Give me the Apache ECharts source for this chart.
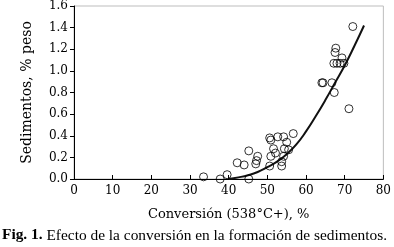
<!DOCTYPE html>
<html>
<head>
<meta charset="utf-8">
<script src="https://cdn.jsdelivr.net/npm/echarts@6/dist/echarts.min.js"></script>
<style>html,body{margin:0;padding:0;background:#fff}#c{width:394px;height:247px}</style>
</head>
<body>
<div id="c"></div>
<script>
// Scatter data: conversion (%) and sediments (% peso)
var conversion = [33.5,37.8,39.6,45.2,42.2,44.0,45.2,47.5,47.2,47.0,50.6,50.9,52.7,54.2,56.7,55.0,51.6,54.4,55.5,52.1,50.9,54.2,50.6,53.7,53.7,72.1,67.7,67.5,69.3,67.2,68.0,68.8,69.8,64.4,64.1,66.7,67.3,71.1];
var sediments  = [0.02,0.00,0.04,0.00,0.15,0.13,0.26,0.21,0.17,0.14,0.38,0.36,0.39,0.39,0.42,0.34,0.28,0.28,0.27,0.24,0.21,0.21,0.12,0.16,0.12,1.41,1.21,1.17,1.12,1.07,1.07,1.07,1.07,0.89,0.89,0.89,0.80,0.65];
// Trend curve
var curveX = [40,42.5,45,47.5,50,52.5,55,57.5,60,62.5,65,67.5,70,72.5,75];
var curveY = [0.00,0.015,0.035,0.065,0.11,0.16,0.23,0.32,0.44,0.58,0.73,0.89,1.05,1.23,1.42];
var xTicks = [0,10,20,30,40,50,60,70,80];
var yTicks = [0.0,0.2,0.4,0.6,0.8,1.0,1.2,1.4,1.6];

var points = conversion.map(function(x,i){return [x, sediments[i]];});
var curve = curveX.map(function(x,i){return [x, curveY[i]];});

var chart = echarts.init(document.getElementById('c'), null, {renderer:'canvas'});
var serif = 'DejaVu Serif';
chart.setOption({
  animation:false,
  backgroundColor:'#fff',
  title:{
    text:'{b|Fig. 1.} {r|Efecto de la conversión en la formación de sedimentos.}',
    left:2, top:228, padding:0,
    textStyle:{fontWeight:'normal',fontFamily:'Liberation Serif',fontSize:15.4,color:'#000',rich:{
      b:{fontFamily:'Liberation Serif',fontWeight:'bold',fontSize:15.4,color:'#000'},
      r:{fontFamily:'Liberation Serif',fontWeight:'normal',fontSize:15.4,color:'#000'}
    }}
  },
  grid:{left:74,right:6,top:4,bottom:68,show:true,borderColor:'#bdbdbd',borderWidth:1,containLabel:false},
  xAxis:{
    type:'value',min:xTicks[0],max:xTicks[xTicks.length-1],interval:10,
    name:'Conversión (538°C+), %',nameLocation:'middle',nameGap:29,
    nameTextStyle:{fontFamily:serif,fontSize:13,color:'#000'},
    axisLine:{show:true,lineStyle:{color:'#000',width:1}},
    axisTick:{show:true,inside:true,length:4,lineStyle:{color:'#000'}},
    axisLabel:{fontFamily:serif,fontSize:12,color:'#000',margin:6},
    splitLine:{show:false}
  },
  yAxis:{
    type:'value',min:yTicks[0],max:yTicks[yTicks.length-1],interval:0.2,
    name:'Sedimentos, % peso',nameLocation:'middle',nameGap:40,nameRotate:90,
    nameTextStyle:{fontFamily:serif,fontSize:14,color:'#000'},
    axisLine:{show:true,lineStyle:{color:'#000',width:1}},
    axisTick:{show:true,inside:false,length:4,lineStyle:{color:'#000'}},
    axisLabel:{fontFamily:serif,fontSize:12,color:'#000',margin:6,
      formatter:function(v){return v.toFixed(1);}},
    splitLine:{show:false}
  },
  series:[
    {type:'line',data:curve,smooth:true,symbol:'none',lineStyle:{color:'#111',width:2},z:3},
    {type:'scatter',data:points,symbol:'circle',symbolSize:8,
     itemStyle:{color:'rgba(0,0,0,0)',borderColor:'#000',borderWidth:1},z:4}
  ]
});
</script>
</body>
</html>
